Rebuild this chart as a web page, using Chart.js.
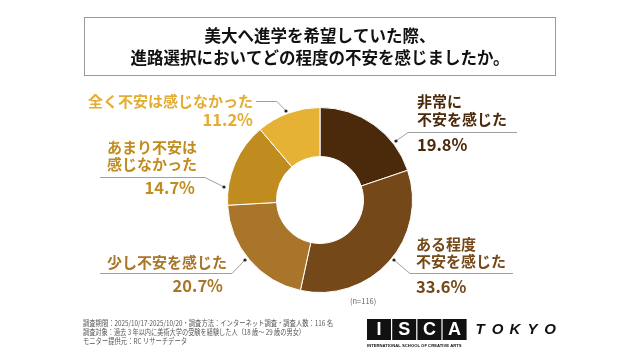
<!DOCTYPE html>
<html>
<head>
<meta charset="utf-8">
<script src="https://cdn.jsdelivr.net/npm/chart.js@4"></script>
<style>
html,body{margin:0;padding:0;background:#fff;}
#wrap{position:relative;width:640px;height:360px;}
</style>
</head>
<body>
<div id="wrap"><canvas id="c" width="640" height="360"></canvas></div>
<script>
const titleLines = ["美大へ進学を希望していた際、", "進路選択においてどの程度の不安を感じましたか。"];
const categories = ["非常に不安を感じた", "ある程度不安を感じた", "少し不安を感じた", "あまり不安は感じなかった", "全く不安は感じなかった"];
const labelLines = [["非常に", "不安を感じた"], ["ある程度", "不安を感じた"], ["少し不安を感じた"], ["あまり不安は", "感じなかった"], ["全く不安は感じなかった"]];
const values = [19.8, 33.6, 20.7, 14.7, 11.2];
const pctLabels = ["19.8%", "33.6%", "20.7%", "14.7%", "11.2%"];
const colors = ["#4B2A0B", "#744819", "#A8752A", "#C18C1F", "#E6B236"];
const textColors = ["#4B2A0B", "#744819", "#A8752A", "#C18C1F", "#E3AD33"];
const sampleNote = "(n=116)";
const footerLines = [
  "調査期間：2025/10/17-2025/10/20・調査方法：インターネット調査・調査人数：116 名",
  "調査対象：過去 3 年以内に美術大学の受験を経験した人（18 歳～ 29 歳の男女）",
  "モニター提供元：RC リサーチデータ"
];

const JP = '"Noto Sans CJK JP", "Noto Sans", sans-serif';

const layout = [
  {x:417, align:'left',  ys:[101,119], px:417, py:145, path:[[396,141],[408,132],[517,132]]},
  {x:416, align:'left',  ys:[244,261], px:416, py:287, path:[[394,260],[410,273],[513,273]]},
  {x:227, align:'right', ys:[262],     px:223, py:286, path:[[245,260],[232,273],[100,273]]},
  {x:197, align:'right', ys:[147,164], px:195, py:188, path:[[224,187],[205,177],[100,177]]},
  {x:253, align:'right', ys:[101],     px:253, py:120, path:[[286,111],[277,101],[256,101]]}
];

const decor = {
  id:'decor',
  afterDraw(chart){
    const ctx = chart.ctx;
    ctx.save();
    ctx.strokeStyle = '#9a9a9a';
    ctx.lineWidth = 1;
    ctx.strokeRect(84.5, 17.5, 471, 58);
    ctx.fillStyle = '#111';
    ctx.font = 'bold 16.5px ' + JP;
    ctx.textAlign = 'center';
    ctx.textBaseline = 'middle';
    ctx.fillText(titleLines[0], 320, 36);
    ctx.fillText(titleLines[1], 320, 58);

    layout.forEach((L, i) => {
      ctx.strokeStyle = '#a0a0a0';
      ctx.lineWidth = 1;
      ctx.beginPath();
      ctx.moveTo(L.path[0][0], L.path[0][1]);
      for (let k = 1; k < L.path.length; k++) ctx.lineTo(L.path[k][0], L.path[k][1] + 0.5);
      ctx.stroke();
      ctx.fillStyle = '#222';
      ctx.beginPath();
      ctx.arc(L.path[0][0], L.path[0][1], 1.6, 0, Math.PI * 2);
      ctx.fill();

      ctx.fillStyle = textColors[i];
      ctx.textAlign = L.align;
      ctx.textBaseline = 'middle';
      ctx.font = 'bold 15px ' + JP;
      labelLines[i].forEach((t, j) => ctx.fillText(t, L.x, L.ys[j]));
      ctx.font = 'bold 16.5px ' + JP;
      ctx.fillText(pctLabels[i], L.px, L.py);
    });

    ctx.fillStyle = '#666';
    ctx.font = '7.5px ' + JP;
    ctx.textAlign = 'left';
    ctx.fillText(sampleNote, 350, 301);

    ctx.fillStyle = '#555';
    ctx.font = '7.5px ' + JP;
    ctx.textAlign = 'left';
    ctx.fillText(footerLines[0], 83, 323, 250);
    ctx.fillText(footerLines[1], 83, 332, 222);
    ctx.fillText(footerLines[2], 83, 341, 104);

    const letters = ['I','S','C','A'];
    for (let k = 0; k < 4; k++) {
      const bx = 367 + k * 25.2;
      ctx.fillStyle = '#111';
      ctx.fillRect(bx, 319, 24, 21);
      ctx.fillStyle = '#fff';
      ctx.font = 'bold 18px "Liberation Sans", Arial, sans-serif';
      ctx.textAlign = 'center';
      ctx.fillText(letters[k], bx + 12, 330.5);
    }
    ctx.fillStyle = '#111';
    ctx.font = 'bold 4.2px "Liberation Sans", Arial, sans-serif';
    ctx.textAlign = 'left';
    ctx.fillText('INTERNATIONAL SCHOOL OF CREATIVE ARTS', 367, 345.5, 100);
    ctx.font = 'italic bold 15px "Liberation Sans", Arial, sans-serif';
    'TOKYO'.split('').forEach((ch, k) => { ctx.textAlign = 'center'; ctx.fillText(ch, 480 + k * 17.5, 330); });
    ctx.restore();
  }
};

new Chart(document.getElementById('c'), {
  type: 'doughnut',
  data: {
    labels: categories,
    datasets: [{
      data: values,
      backgroundColor: colors,
      borderColor: '#ffffff',
      borderWidth: 1,
      hoverOffset: 0
    }]
  },
  options: {
    responsive: false,
    animation: false,
    cutout: '47%',
    layout: { padding: { left: 227, right: 227, top: 107, bottom: 67 } },
    plugins: { legend: { display: false }, tooltip: { enabled: false } },
    events: []
  },
  plugins: [decor]
});
</script>
</body>
</html>
